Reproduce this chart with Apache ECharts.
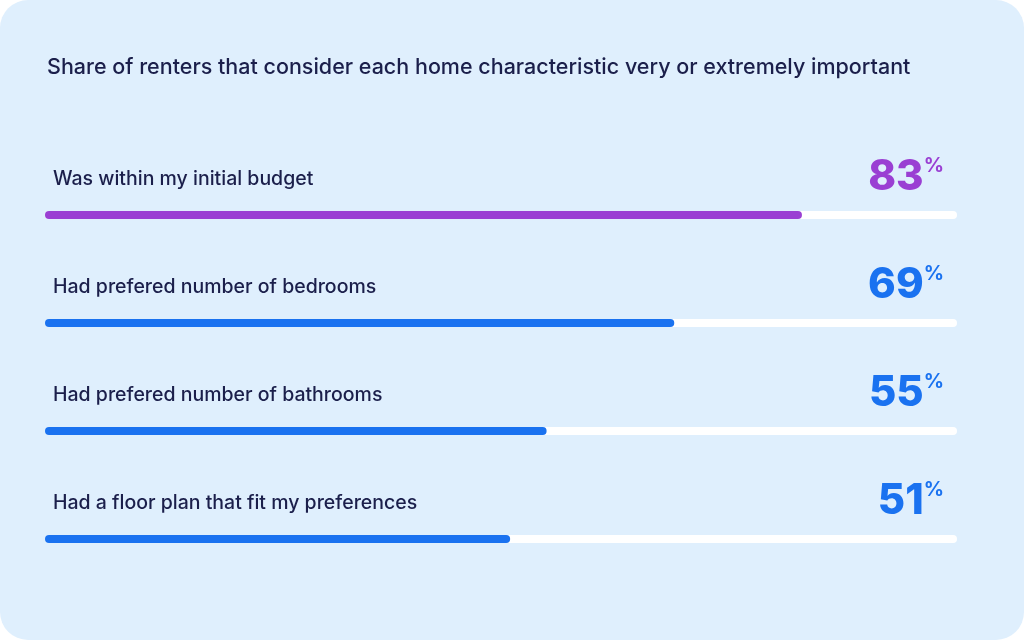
<!DOCTYPE html><html><head><meta charset="utf-8">
<script src="https://cdn.jsdelivr.net/npm/echarts@6/dist/echarts.min.js"></script>
<style>html,body{margin:0;background:#fff}#c{width:1024px;height:640px}</style></head><body><div id="c"></div>
<script>
const categories=["Was within my initial budget","Had prefered number of bedrooms","Had prefered number of bathrooms","Had a floor plan that fit my preferences"];
const values=[83,69,55,51];
const colors=["#9a3fd3","#1a72f0","#1a72f0","#1a72f0"];
const chart=echarts.init(document.getElementById('c'));
const F='Inter';
chart.setOption({
 backgroundColor:'#fff',
 graphic:[{type:'rect',shape:{x:0,y:0,width:1024,height:640,r:28},style:{fill:'#dfeffd'},z:-10},
  {type:'text',left:47,top:57,style:{text:'Share of renters that consider each home characteristic very or extremely important',font:'500 21.5px '+F,fill:'#1b1f4b'}}],
 grid:{left:45,right:67,top:161,height:432},
 xAxis:{type:'value',min:0,max:100,show:false},
 yAxis:{type:'category',data:categories,inverse:true,show:false},
 series:[
  {type:'bar',data:categories.map(()=>100),barWidth:8,silent:true,itemStyle:{color:'#fff',borderRadius:4},
   label:{show:true,position:'insideLeft',offset:[3,-36],formatter:p=>p.name,color:'#1b1f4b',fontFamily:F,fontSize:19.5,fontWeight:500}},
  {type:'bar',data:values.map((v,i)=>({value:v,itemStyle:{color:colors[i]}})),barWidth:8,barGap:'-100%',itemStyle:{borderRadius:4}},
  {type:'bar',data:values.map((v,i)=>({value:100,label:{rich:{n:{color:colors[i],fontSize:42,fontWeight:800,fontFamily:F},p:{color:colors[i],fontSize:20,fontWeight:700,fontFamily:F,verticalAlign:'top',padding:[0,0,20,0]}}}})),
   barWidth:8,barGap:'-100%',silent:true,itemStyle:{color:'transparent'},
   label:{show:true,position:'insideRight',offset:[-8,-38],formatter:p=>'{n|'+values[p.dataIndex]+'}{p|%}'}}
 ]
});
</script></body></html>
